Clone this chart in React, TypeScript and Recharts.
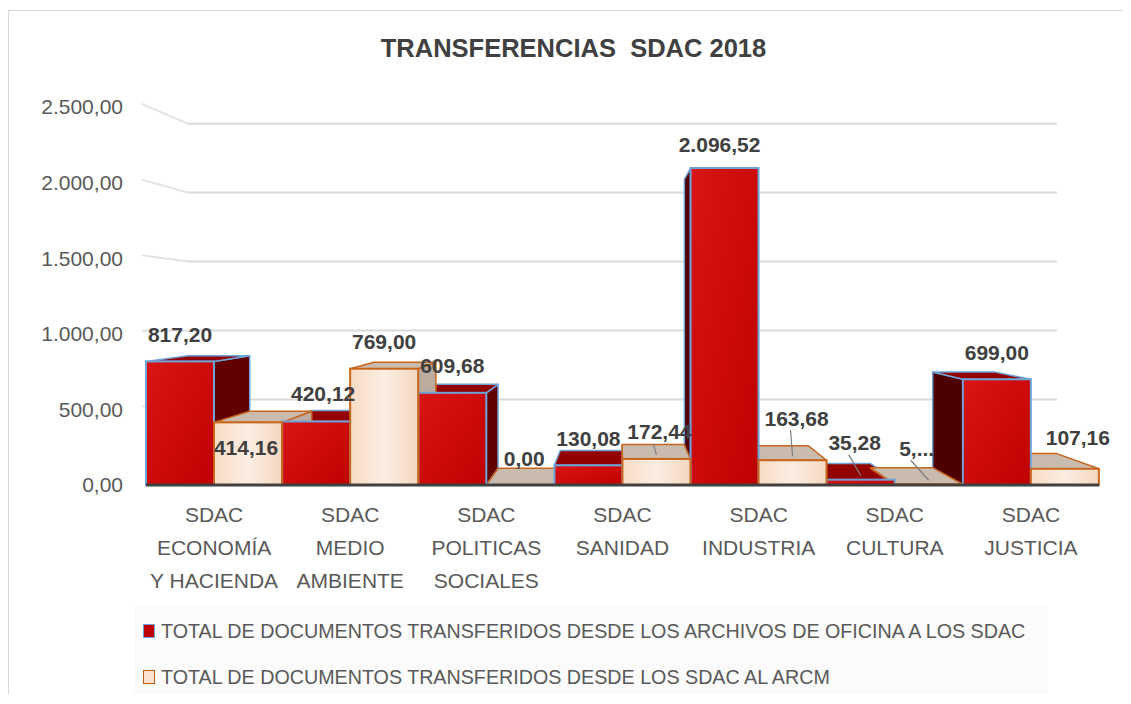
import { BarChart, Bar, XAxis, YAxis, CartesianGrid, Legend, LabelList } from 'recharts';

// categories, lines split with "|" for the wrapped axis labels
const categories = [
  'SDAC|ECONOMÍA|Y HACIENDA',
  'SDAC|MEDIO|AMBIENTE',
  'SDAC|POLITICAS|SOCIALES',
  'SDAC|SANIDAD',
  'SDAC|INDUSTRIA',
  'SDAC|CULTURA',
  'SDAC|JUSTICIA',
];
const officeToSdac = [817.2, 420.12, 609.68, 130.08, 2096.52, 35.28, 699.0];
const sdacToArcm = [414.16, 769.0, 0.0, 172.44, 163.68, 5.0, 107.16];
const yTicks = [0, 500, 1000, 1500, 2000, 2500];
const seriesNames = [
  'TOTAL DE DOCUMENTOS TRANSFERIDOS DESDE LOS ARCHIVOS DE OFICINA A LOS SDAC',
  'TOTAL DE DOCUMENTOS TRANSFERIDOS DESDE LOS SDAC AL ARCM',
];

const fmt = (v: number) => {
  const [i, d] = v.toFixed(2).split('.');
  return i.replace(/\B(?=(\d{3})+(?!\d))/g, '.') + ',' + d;
};

const officeLabels = officeToSdac.map(fmt);
const arcmLabels = sdacToArcm.map(fmt);
arcmLabels[5] = '5,...'; // excel truncated this one

const rows = categories.map((cat, i) => ({
  cat,
  office: officeToSdac[i],
  arcm: sdacToArcm[i],
}));

const FONT = '"Liberation Sans", Arial, sans-serif';

// fake 3d: every back corner moves toward a vanishing point
const VP = { x: 612, y: 286 };
const DEPTH = 0.088;
const proj = (x: number, y: number): [number, number] => [x + (VP.x - x) * DEPTH, y + (VP.y - y) * DEPTH];
const pts = (arr: [number, number][]) => arr.map((p) => p.join(',')).join(' ');

interface Palette {
  front: string;
  top: string;
  side: string;
  edge: string;
}
const RED: Palette = { front: 'url(#redFront)', top: '#930000', side: '#620000', edge: '#6FA3D8' };
const CREAM: Palette = { front: 'url(#creamFront)', top: '#C9BBAD', side: '#BBAC9D', edge: '#C8661E' };

function makeBack(pal: Palette) {
  return (props: any) => {
    const { x, y, width, height } = props;
    if (x == null || y == null) return <g />;
    const x0 = x;
    const x1 = x + width;
    const yt = y;
    const yb = y + height;
    const faces = [];
    if (x1 < VP.x) {
      faces.push(
        <polygon key="r" points={pts([[x1, yt], [x1, yb], proj(x1, yb), proj(x1, yt)])}
          fill={pal.side} stroke={pal.edge} strokeWidth={1.5} strokeLinejoin="round" />
      );
    }
    if (x0 > VP.x) {
      faces.push(
        <polygon key="l" points={pts([[x0, yt], [x0, yb], proj(x0, yb), proj(x0, yt)])}
          fill={pal === RED ? '#4E0000' : pal.side} stroke={pal.edge} strokeWidth={1.5} strokeLinejoin="round" />
      );
    }
    if (yt > VP.y) {
      faces.push(
        <polygon key="t" points={pts([[x0, yt], [x1, yt], proj(x1, yt), proj(x0, yt)])}
          fill={pal.top} stroke={pal.edge} strokeWidth={1.5} strokeLinejoin="round" />
      );
    }
    return <g>{faces}</g>;
  };
}

function makeFront(pal: Palette) {
  return (props: any) => {
    const { x, y, width, height } = props;
    if (x == null || y == null) return <g />;
    return <rect x={x} y={y} width={width} height={height} fill={pal.front} stroke={pal.edge} strokeWidth={2} />;
  };
}

interface Nudge {
  dx?: number;
  dy?: number;
  leader?: boolean;
}
const officeNudge: Record<number, Nudge> = {
  1: { dx: 7, dy: -28 },
  4: { dx: -5, dy: -24 },
  5: { dx: -6, dy: -37, leader: true },
};
const arcmNudge: Record<number, Nudge> = {
  0: { dx: -2, dy: 25 },
  2: { dx: 4 },
  3: { dx: 3, leader: true },
  4: { dx: 4, dy: -42, leader: true },
  5: { dx: -12, dy: -36, leader: true },
  6: { dx: 13, dy: -31 },
};

function makeLabel(texts: string[], nudges: Record<number, Nudge>) {
  return (props: any) => {
    const vb = props.viewBox ?? props;
    const i = props.index;
    const n = nudges[i] ?? {};
    const bx = vb.x + vb.width / 2;
    const cx = bx + (n.dx ?? 0);
    const cy = vb.y + (n.dy ?? -27);
    return (
      <g key={`lbl-${i}`}>
        {n.leader && (
          <line x1={cx - 6} y1={cy + 12} x2={bx} y2={vb.y - 4} stroke="#7F7F7F" strokeWidth={1.2} />
        )}
        <text x={cx} y={cy} textAnchor="middle" dominantBaseline="central"
          fontFamily={FONT} fontWeight="bold" fontSize={21} fill="#404040">
          {texts[i]}
        </text>
      </g>
    );
  };
}

// gridlines live on the back wall, with a short diagonal on the left wall
const gridLine = (p: any) => {
  const { x1, y1, x2 } = p;
  const k = `grid-${Math.round(y1)}`;
  if (y1 > 470) return <g key={k} />;
  const [bx, by] = proj(x1, y1);
  const [ex] = proj(x2, y1);
  return (
    <g key={k}>
      <line x1={x1 - 4} y1={y1 - 3} x2={bx} y2={by} stroke="#E3E3E3" strokeWidth={2} />
      <line x1={bx} y1={by} x2={ex} y2={by} stroke="#D9D9D9" strokeWidth={2} />
    </g>
  );
};

const CategoryTick = (p: any) => {
  const lines = String(p.payload.value).split('|');
  return (
    <text x={p.x} y={p.y} textAnchor="middle" fontFamily={FONT} fontSize={21} fill="#595959">
      {lines.map((l, i) => (
        <tspan key={i} x={p.x} y={p.y + 28.5 + i * 33}>{l}</tspan>
      ))}
    </text>
  );
};

const renderLegend = (props: any) => {
  const items = props.payload ?? [];
  return (
    <div style={{ fontFamily: FONT, fontSize: 19.7, color: '#595959', paddingLeft: 10, paddingTop: 2 }}>
      {items.map((it: any, i: number) => (
        <div key={i} style={{ display: 'flex', alignItems: 'center', height: 46 }}>
          <span style={{
            display: 'inline-block',
            flexShrink: 0,
            width: 10,
            height: 12,
            background: i === 0 ? '#C00000' : '#F7E3D0',
            border: `1.5px solid ${i === 0 ? '#6FA3D8' : '#C55A11'}`,
            marginRight: 6,
          }} />
          <span style={{ whiteSpace: 'nowrap' }}>{it.value}</span>
        </div>
      ))}
    </div>
  );
};

export default function App() {
  return (
    <div style={{ position: 'relative', top: 2, width: 1115, height: 686 }}>
      <div style={{
        position: 'absolute', left: 0, top: 0, width: 1123, height: 686,
        borderTop: '1px solid #D9D9D9', borderLeft: '1px solid #D9D9D9', boxSizing: 'border-box',
      }} />
      <div style={{
        position: 'absolute', left: 8, top: 23, width: 1115, textAlign: 'center',
        fontFamily: FONT, fontWeight: 'bold', fontSize: 25.5, lineHeight: '30px', color: '#404040', whiteSpace: 'pre',
      }}>
        {'TRANSFERENCIAS  SDAC 2018'}
      </div>
      <BarChart width={1115} height={686} data={rows} barCategoryGap={0} barGap={0}
        margin={{ top: 97, right: 24, bottom: 111, left: 8 }}>
        <defs>
          <linearGradient id="redFront" x1="0" y1="0" x2="1" y2="1">
            <stop offset="0%" stopColor="#D91515" />
            <stop offset="100%" stopColor="#C00000" />
          </linearGradient>
          <linearGradient id="creamFront" x1="0" y1="0" x2="1" y2="0">
            <stop offset="0%" stopColor="#F6DCC4" />
            <stop offset="50%" stopColor="#FCEEE2" />
            <stop offset="100%" stopColor="#F3D8BF" />
          </linearGradient>
        </defs>
        <CartesianGrid vertical={false} horizontal={gridLine} />
        <XAxis xAxisId="a" dataKey="cat" interval={0} height={100} tickLine={false}
          axisLine={{ stroke: '#404040', strokeWidth: 3 }} tick={<CategoryTick />} />
        <XAxis xAxisId="b" dataKey="cat" hide />
        <XAxis xAxisId="c" dataKey="cat" hide />
        <YAxis width={130} domain={[0, 2500]} ticks={yTicks} tickFormatter={fmt}
          axisLine={false} tickLine={false} tickMargin={17}
          tick={{ fill: '#595959', fontSize: 21, fontFamily: FONT }} />
        <Legend layout="horizontal" verticalAlign="middle" align="center" content={renderLegend}
          wrapperStyle={{ left: 125, top: 596, width: 915, height: 90, background: '#FBFBFB' }} />

        {/* back faces first, then fronts, then labels on top */}
        <Bar xAxisId="a" dataKey="office" legendType="none" shape={makeBack(RED)} isAnimationActive={false} />
        <Bar xAxisId="a" dataKey="arcm" legendType="none" shape={makeBack(CREAM)} isAnimationActive={false} />
        <Bar xAxisId="b" dataKey="office" name={seriesNames[0]} fill="#C00000"
          shape={makeFront(RED)} isAnimationActive={false} />
        <Bar xAxisId="b" dataKey="arcm" name={seriesNames[1]} fill="#FBE5D6"
          shape={makeFront(CREAM)} isAnimationActive={false} />
        <Bar xAxisId="c" dataKey="office" legendType="none" shape={() => <g />} isAnimationActive={false}>
          <LabelList dataKey="office" content={makeLabel(officeLabels, officeNudge)} />
        </Bar>
        <Bar xAxisId="c" dataKey="arcm" legendType="none" shape={() => <g />} isAnimationActive={false}>
          <LabelList dataKey="arcm" content={makeLabel(arcmLabels, arcmNudge)} />
        </Bar>
      </BarChart>
    </div>
  );
}
